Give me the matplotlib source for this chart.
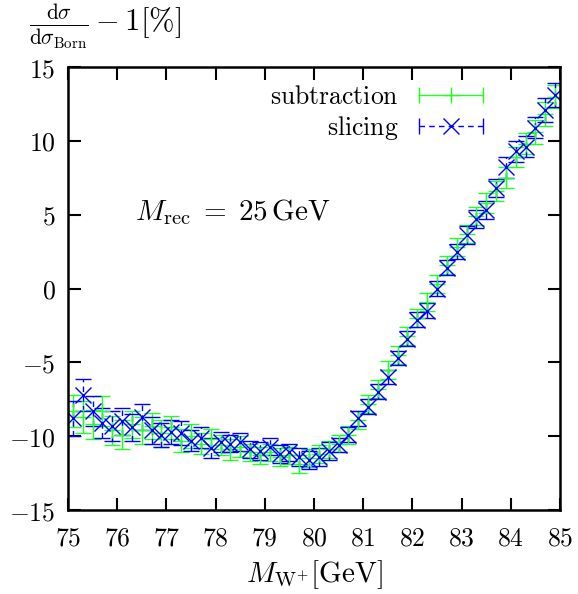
import matplotlib
matplotlib.use("Agg")
import matplotlib.pyplot as plt
from matplotlib.lines import Line2D
from matplotlib.legend_handler import HandlerLine2D
from matplotlib.ticker import FuncFormatter, MultipleLocator

plt.rcParams["mathtext.fontset"] = "cm"
plt.rcParams["font.family"] = "serif"

# bin centres in GeV
m_w = [75.1, 75.3, 75.5, 75.7, 75.9, 76.1, 76.3, 76.5, 76.7, 76.9,
       77.1, 77.3, 77.5, 77.7, 77.9, 78.1, 78.3, 78.5, 78.7, 78.9,
       79.1, 79.3, 79.5, 79.7, 79.9, 80.1, 80.3, 80.5, 80.7, 80.9,
       81.1, 81.3, 81.5, 81.7, 81.9, 82.1, 82.3, 82.5, 82.7, 82.9,
       83.1, 83.3, 83.5, 83.7, 83.9, 84.1, 84.3, 84.5, 84.7, 84.9]

subtraction = [-8.3, -8.7, -9.2, -8.3, -9.6, -9.9, -9.2, -9.6, -9.3, -9.8,
               -9.4, -10.3, -10.0, -10.5, -10.2, -10.6, -10.9, -10.7, -11.1, -11.3,
               -11.1, -11.4, -11.3, -11.9, -11.5, -11.2, -10.9, -10.5, -9.9, -8.9,
               -7.8, -6.8, -5.5, -4.5, -3.2, -2.0, -0.9, 0.3, 1.6, 2.8,
               3.7, 4.9, 5.8, 6.6, 7.5, 8.9, 9.8, 10.6, 11.8, 13.0]
subtraction_err = [1.1, 1.1, 1.0, 1.0, 1.0, 1.0, 0.9, 0.9, 0.9, 0.9,
                   0.8, 0.8, 0.8, 0.7, 0.7, 0.7, 0.7, 0.7, 0.6, 0.6,
                   0.6, 0.6, 0.6, 0.6, 0.6, 0.6, 0.6, 0.6, 0.6, 0.6,
                   0.6, 0.6, 0.6, 0.6, 0.6, 0.6, 0.6, 0.6, 0.6, 0.6,
                   0.6, 0.6, 0.7, 0.7, 0.7, 0.7, 0.7, 0.8, 0.8, 0.8]

slicing = [-8.8, -7.2, -8.3, -9.1, -9.3, -9.0, -9.4, -8.7, -9.6, -9.9,
           -9.7, -9.8, -10.3, -10.1, -10.8, -10.4, -10.5, -10.4, -10.9, -11.0,
           -10.7, -11.2, -11.1, -11.4, -11.6, -11.4, -11.0, -10.6, -9.9, -8.8,
           -8.0, -7.0, -6.0, -4.7, -3.4, -2.1, -1.5, 0.0, 1.4, 2.5,
           3.6, 4.7, 5.3, 6.8, 8.2, 9.3, 9.6, 10.9, 12.1, 13.1]
slicing_err = [1.2, 1.1, 1.0, 1.0, 1.0, 0.9, 0.9, 0.9, 0.9, 0.8,
               0.8, 0.8, 0.7, 0.7, 0.7, 0.7, 0.6, 0.6, 0.6, 0.6,
               0.6, 0.6, 0.6, 0.6, 0.6, 0.6, 0.6, 0.5, 0.5, 0.5,
               0.5, 0.5, 0.5, 0.5, 0.5, 0.5, 0.5, 0.5, 0.5, 0.5,
               0.6, 0.6, 0.6, 0.6, 0.7, 0.7, 0.7, 0.7, 0.8, 0.8]

GREEN = "#22ff22"
BLUE = "#0000ff"
FS = 18.5

fig = plt.figure(figsize=(5.78, 5.94), dpi=100)
ax = fig.add_axes([0.1176, 0.1414, 0.8513, 0.7458])

ax.errorbar(m_w, subtraction, yerr=subtraction_err, fmt="+", color=GREEN,
            ms=12, mew=1.0, elinewidth=1.0, capsize=5.8, capthick=1.0)
eb = ax.errorbar(m_w, slicing, yerr=slicing_err, fmt="x", color=BLUE,
                 ms=12, mew=1.0, elinewidth=1.0, capsize=5.8, capthick=1.0)
eb[2][0].set_linestyle((0, (4, 3)))

ax.set_xlim(75, 85)
ax.set_ylim(-15, 15)
ax.xaxis.set_major_locator(MultipleLocator(1))
ax.yaxis.set_major_locator(MultipleLocator(5))
fmt = FuncFormatter(lambda v, p: f"${v:g}$")
ax.xaxis.set_major_formatter(fmt)
ax.yaxis.set_major_formatter(fmt)
ax.tick_params(direction="in", length=9, width=1.5, top=True, right=True,
               labelsize=FS)
ax.tick_params(axis="x", pad=11)
ax.tick_params(axis="y", pad=9)
for s in ax.spines.values():
    s.set_linewidth(1.8)

ax.set_xlabel(r"$M_{\mathrm{W}^{+}}[\mathrm{GeV}]$", fontsize=21, labelpad=6)
ax.text(-0.08, 1.035, r"$\frac{\mathrm{d}\sigma}{\mathrm{d}\sigma_{\mathrm{Born}}} - 1[\%]$",
        transform=ax.transAxes, ha="left", va="bottom", fontsize=22)
ax.text(0.136, 0.673, r"$M_{\mathrm{rec}}\;=\;25\,\mathrm{GeV}$",
        transform=ax.transAxes, ha="left", va="center", fontsize=21)

# gnuplot-like legend samples: bar with end ticks + centre marker
bar_s = Line2D([], [], color=GREEN, lw=1.0, marker="|", ms=12, mew=1.0)
mk_s = Line2D([], [], color=GREEN, ls="none", marker="+", ms=11, mew=1.0)
bar_b = Line2D([], [], color=BLUE, lw=1.0, ls=(0, (4, 3)), marker="|", ms=12, mew=1.0)
mk_b = Line2D([], [], color=BLUE, ls="none", marker="x", ms=12, mew=1.0)
ax.legend([(bar_s, mk_s), (bar_b, mk_b)],
          [r"$\mathrm{subtraction}$", r"$\mathrm{slicing}$"],
          handler_map={bar_s: HandlerLine2D(numpoints=2),
                       bar_b: HandlerLine2D(numpoints=2)},
          loc="upper right", bbox_to_anchor=(0.86, 0.962), frameon=False,
          markerfirst=False, fontsize=FS, handlelength=3.1, handletextpad=0.5,
          labelspacing=0.22, borderpad=0, borderaxespad=0)

fig.savefig("out.png", dpi=100)
